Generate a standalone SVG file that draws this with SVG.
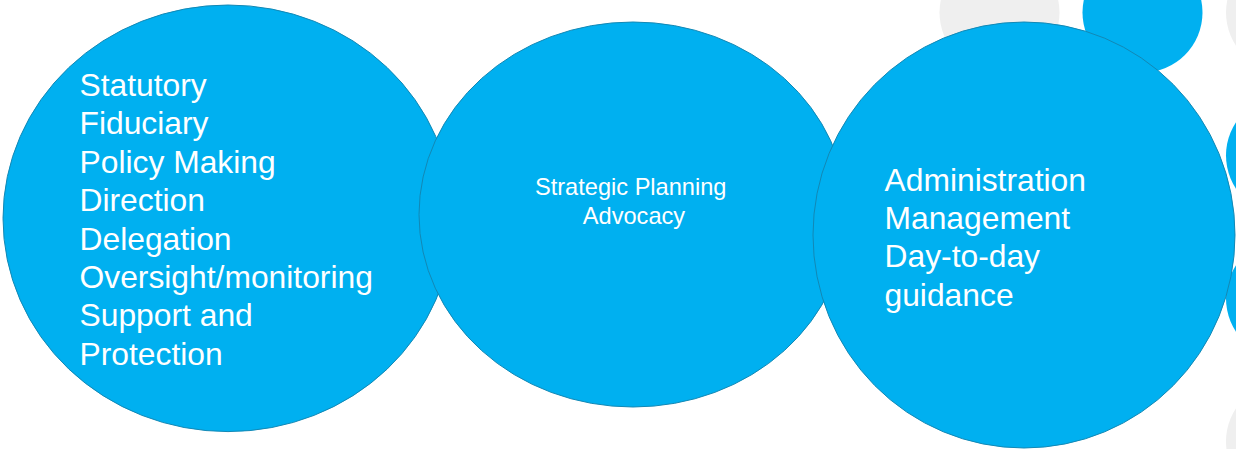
<svg xmlns="http://www.w3.org/2000/svg" width="1236" height="449" viewBox="0 0 1236 449">
  <style>
    .dot-grey { fill: #EFEFEF; }
    .dot-blue { fill: #00B0F0; }
    .bubble { fill: #00B0F0; stroke: #1288B5; stroke-width: 1; }
    .label { fill: #FFFFFF; font-family: "Liberation Sans", Arial, sans-serif; }
    .big { font-size: 31.8px; }
    .small { font-size: 23.6px; }
  </style>
  <rect width="1236" height="449" fill="#FFFFFF"/>

  <!-- decorative dot grid on the right -->
  <g id="decor">
    <circle class="dot-grey" cx="999.5" cy="12.5" r="60"/>
    <circle class="dot-blue" cx="1142.5" cy="12.5" r="60"/>
    <circle class="dot-grey" cx="1286" cy="12.5" r="60"/>
    <circle class="dot-blue" cx="1286" cy="155.5" r="60"/>
    <circle class="dot-blue" cx="1286" cy="298.5" r="60"/>
    <circle class="dot-grey" cx="1286" cy="441.5" r="60"/>
  </g>

  <!-- governance roles -->
  <g id="node-board">
    <ellipse class="bubble" cx="228" cy="218.3" rx="225" ry="213.3"/>
    <text class="label big">
      <tspan x="79.5" y="96">Statutory</tspan>
      <tspan x="79.5" y="134.4">Fiduciary</tspan>
      <tspan x="79.5" y="172.8">Policy Making</tspan>
      <tspan x="79.5" y="211.2">Direction</tspan>
      <tspan x="79.5" y="249.6">Delegation</tspan>
      <tspan x="79.5" y="288">Oversight/monitoring</tspan>
      <tspan x="79.5" y="326.4">Support and</tspan>
      <tspan x="79.5" y="364.8">Protection</tspan>
    </text>
  </g>

  <!-- shared roles -->
  <g id="node-shared">
    <ellipse class="bubble" cx="633" cy="214.5" rx="214" ry="192.5"/>
    <text class="label small" text-anchor="middle">
      <tspan x="634" y="195">Strategic Planning</tspan>
      <tspan x="634" y="223.5">Advocacy</tspan>
    </text>
  </g>

  <!-- management roles -->
  <g id="node-management">
    <ellipse class="bubble" cx="1024" cy="235" rx="211" ry="213"/>
    <text class="label big">
      <tspan x="884.5" y="190.6">Administration</tspan>
      <tspan x="884.5" y="229">Management</tspan>
      <tspan x="884.5" y="267.4">Day-to-day</tspan>
      <tspan x="884.5" y="305.8">guidance</tspan>
    </text>
  </g>

  <g id="connectors"/>
</svg>
